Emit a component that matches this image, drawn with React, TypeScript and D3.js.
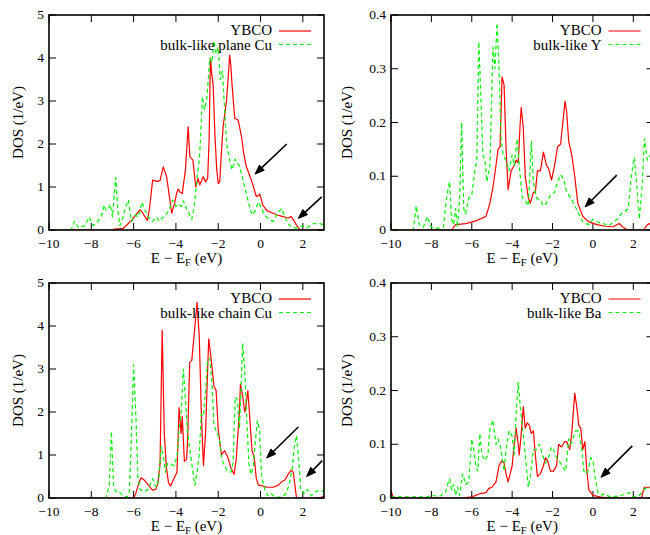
import React from "react";
import * as d3 from "d3";

// ---------- data (E - E_F in eV, DOS in 1/eV) ----------
const xTicks = [-10, -8, -6, -4, -2, 0, 2];
const cuYTicks = [0, 1, 2, 3, 4, 5];
const smallYTicks = [0, 0.1, 0.2, 0.3, 0.4];

const ybcoPlane: [number, number][] = [
  [-10, 0], [-7.0, 0], [-6.9, 0.02], [-6.48, 0.04], [-6.09, 0.23], [-5.85, 0.38], [-5.7, 0.47], [-5.6, 0.42],
  [-5.45, 0.3], [-5.35, 0.22], [-5.25, 0.5], [-5.1, 1.16], [-4.9, 1.13], [-4.75, 1.15], [-4.6, 1.47], [-4.44, 1.24],
  [-4.3, 0.75], [-4.2, 0.39], [-4.05, 0.65], [-3.97, 0.85], [-3.9, 0.95], [-3.8, 0.88], [-3.7, 0.85], [-3.55, 1.4],
  [-3.42, 2.4], [-3.34, 1.7], [-3.2, 1.63], [-3.06, 1.0], [-2.95, 1.2], [-2.87, 1.05], [-2.71, 1.24], [-2.6, 1.12],
  [-2.5, 1.2], [-2.43, 2.1], [-2.37, 4.0], [-2.3, 3.6], [-2.24, 3.37], [-2.16, 2.25], [-2.07, 1.4], [-2.0, 1.08],
  [-1.93, 1.12], [-1.85, 1.8], [-1.77, 2.4], [-1.61, 3.0], [-1.52, 3.6], [-1.46, 4.07], [-1.4, 3.8], [-1.35, 3.4],
  [-1.22, 2.6], [-1.06, 2.56], [-0.9, 2.17], [-0.8, 1.8], [-0.67, 1.47], [-0.5, 1.25], [-0.36, 1.05], [-0.2, 0.78],
  [-0.1, 0.8], [-0.04, 0.84], [0.11, 0.58], [0.3, 0.45], [0.59, 0.39], [0.8, 0.35], [1.06, 0.31], [1.3, 0.28],
  [1.45, 0.31], [1.6, 0.2], [1.69, 0.12], [1.84, 0.02], [1.9, 0], [3, 0],
];
const planeCu: [number, number][] = [
  [-10, 0], [-8.95, 0], [-8.8, 0.2], [-8.6, 0.05], [-8.45, 0.08], [-8.3, 0.1], [-8.1, 0.3], [-7.9, 0.1], [-7.7, 0.2],
  [-7.5, 0.35], [-7.4, 0.58], [-7.3, 0.45], [-7.2, 0.5], [-7.1, 0.6], [-7.0, 0.3], [-6.85, 1.22], [-6.75, 0.5],
  [-6.65, 0.1], [-6.5, 0.3], [-6.4, 0.5], [-6.25, 0.7], [-6.1, 0.2], [-6.0, 0.3], [-5.9, 0.35], [-5.8, 0.3],
  [-5.7, 0.45], [-5.6, 0.65], [-5.5, 0.5], [-5.4, 0.4], [-5.3, 0.3], [-5.2, 0.25], [-5.1, 0.2], [-5.0, 0.25],
  [-4.9, 0.3], [-4.8, 0.2], [-4.7, 0.25], [-4.6, 0.3], [-4.5, 0.35], [-4.4, 0.4], [-4.3, 0.5], [-4.15, 0.7],
  [-4.05, 0.6], [-4.0, 0.55], [-3.85, 0.6], [-3.75, 0.55], [-3.65, 0.68], [-3.5, 0.5], [-3.35, 0.35], [-3.25, 0.25],
  [-3.15, 0.5], [-3.1, 0.7], [-3.0, 1.2], [-2.9, 1.6], [-2.85, 2.0], [-2.75, 3.1], [-2.65, 2.8], [-2.55, 3.0],
  [-2.5, 3.3], [-2.4, 4.0], [-2.3, 3.9], [-2.2, 4.4], [-2.1, 4.1], [-2.0, 4.25], [-1.9, 3.5], [-1.8, 3.7],
  [-1.7, 2.8], [-1.6, 2.0], [-1.45, 1.6], [-1.35, 1.4], [-1.2, 1.65], [-1.1, 1.55], [-1.0, 1.5], [-0.9, 1.3],
  [-0.7, 0.9], [-0.55, 0.6], [-0.4, 0.35], [-0.25, 0.45], [-0.1, 0.65], [0.05, 0.5], [0.2, 0.35], [0.4, 0.25],
  [0.6, 0.2], [0.8, 0.4], [1.0, 0.5], [1.15, 0.3], [1.3, 0.15], [1.5, 0.05], [1.7, 0.05], [2.0, 0.1], [2.2, 0.05],
  [2.5, 0.15], [2.8, 0.15], [3.0, 0.12],
];

const ybcoY: [number, number][] = [
  [-10, 0], [-7.0, 0], [-6.8, 0.01], [-6.3, 0.012], [-5.8, 0.017], [-5.5, 0.022], [-5.3, 0.025], [-5.1, 0.05],
  [-4.95, 0.08], [-4.8, 0.12], [-4.7, 0.15], [-4.6, 0.155], [-4.5, 0.285], [-4.4, 0.27], [-4.3, 0.15], [-4.2, 0.075],
  [-4.05, 0.11], [-3.9, 0.12], [-3.8, 0.13], [-3.7, 0.125], [-3.6, 0.2], [-3.55, 0.228], [-3.45, 0.19], [-3.35, 0.1],
  [-3.2, 0.06], [-3.1, 0.05], [-2.95, 0.07], [-2.85, 0.07], [-2.75, 0.11], [-2.6, 0.11], [-2.45, 0.145], [-2.3, 0.12],
  [-2.2, 0.115], [-2.05, 0.093], [-1.9, 0.12], [-1.75, 0.155], [-1.6, 0.16], [-1.45, 0.215], [-1.38, 0.24],
  [-1.3, 0.22], [-1.2, 0.165], [-1.05, 0.14], [-0.9, 0.1], [-0.75, 0.05], [-0.5, 0.025], [-0.2, 0.015], [0.2, 0.01],
  [0.6, 0.007], [1.0, 0.006], [1.3, 0.012], [1.5, 0.005], [1.7, 0], [2.5, 0], [2.7, 0.01], [3.0, 0.015],
];
const bulkY: [number, number][] = [
  [-10, 0], [-8.9, 0], [-8.75, 0.045], [-8.6, 0.01], [-8.4, 0.005], [-8.2, 0.025], [-8.0, 0.005], [-7.7, 0.003],
  [-7.4, 0.005], [-7.25, 0.06], [-7.1, 0.09], [-7.0, 0.02], [-6.9, 0.01], [-6.8, 0.04], [-6.7, 0.005], [-6.6, 0.06],
  [-6.5, 0.2], [-6.4, 0.04], [-6.3, 0.03], [-6.15, 0.06], [-6.0, 0.065], [-5.85, 0.11], [-5.75, 0.13], [-5.65, 0.35],
  [-5.55, 0.25], [-5.45, 0.14], [-5.35, 0.13], [-5.25, 0.09], [-5.1, 0.12], [-4.95, 0.34], [-4.85, 0.3],
  [-4.75, 0.385], [-4.65, 0.3], [-4.55, 0.17], [-4.45, 0.14], [-4.3, 0.13], [-4.15, 0.11], [-4.0, 0.14],
  [-3.9, 0.12], [-3.75, 0.17], [-3.65, 0.12], [-3.5, 0.06], [-3.35, 0.055], [-3.2, 0.045], [-3.05, 0.165],
  [-2.95, 0.09], [-2.8, 0.06], [-2.6, 0.055], [-2.45, 0.045], [-2.3, 0.05], [-2.1, 0.065], [-1.9, 0.07],
  [-1.75, 0.09], [-1.6, 0.103], [-1.45, 0.095], [-1.3, 0.07], [-1.1, 0.06], [-0.9, 0.045], [-0.7, 0.03],
  [-0.5, 0.015], [-0.2, 0.01], [0.0, 0.02], [0.2, 0.015], [0.5, 0.012], [0.8, 0.008], [1.0, 0.015], [1.2, 0.02],
  [1.4, 0.03], [1.6, 0.035], [1.75, 0.04], [1.9, 0.1], [2.05, 0.135], [2.2, 0.07], [2.3, 0.02], [2.45, 0.09],
  [2.55, 0.17], [2.7, 0.13], [2.85, 0.14], [3.0, 0.12],
];

const ybcoChain: [number, number][] = [
  [-10, 0], [-6.0, 0], [-5.9, 0.1], [-5.75, 0.35], [-5.65, 0.47], [-5.5, 0.42], [-5.3, 0.3], [-5.1, 0.18],
  [-4.95, 0.2], [-4.85, 0.35], [-4.75, 0.8], [-4.65, 3.9], [-4.55, 1.5], [-4.45, 0.7], [-4.35, 0.35], [-4.25, 0.28],
  [-4.1, 0.45], [-3.95, 0.6], [-3.85, 2.1], [-3.75, 1.5], [-3.7, 1.9], [-3.6, 0.85], [-3.5, 0.9], [-3.45, 1.3],
  [-3.35, 3.15], [-3.25, 3.2], [-3.1, 4.0], [-3.0, 4.55], [-2.9, 3.8], [-2.8, 2.0], [-2.7, 0.75], [-2.6, 1.5],
  [-2.5, 3.0], [-2.45, 3.7], [-2.35, 3.3], [-2.2, 2.6], [-2.1, 2.5], [-2.0, 1.6], [-1.85, 1.0], [-1.7, 1.1],
  [-1.55, 0.95], [-1.4, 0.7], [-1.25, 0.55], [-1.15, 0.9], [-1.0, 2.0], [-0.95, 2.65], [-0.85, 2.4], [-0.75, 2.0],
  [-0.7, 2.1], [-0.6, 2.5], [-0.5, 1.8], [-0.4, 1.1], [-0.3, 0.95], [-0.2, 0.45], [-0.1, 0.3], [0.1, 0.28],
  [0.3, 0.25], [0.6, 0.25], [0.85, 0.3], [1.0, 0.38], [1.15, 0.42], [1.3, 0.55], [1.45, 0.65], [1.55, 0.6],
  [1.65, 0.2], [1.7, 0], [2.8, 0], [2.9, 0.02], [3.0, 0.04],
];
const chainCu: [number, number][] = [
  [-10, 0], [-7.3, 0], [-7.15, 0.3], [-7.05, 1.55], [-6.95, 0.3], [-6.85, 0.15], [-6.7, 0.15], [-6.5, 0.05],
  [-6.3, 0.02], [-6.2, 0.15], [-6.1, 1.5], [-6.0, 3.1], [-5.9, 2.0], [-5.8, 0.5], [-5.7, 0.2], [-5.5, 0.15],
  [-5.3, 0.2], [-5.1, 0.45], [-5.0, 0.3], [-4.9, 0.25], [-4.8, 0.5], [-4.7, 1.2], [-4.6, 1.0], [-4.5, 0.6],
  [-4.4, 0.8], [-4.25, 0.8], [-4.1, 0.75], [-3.95, 0.95], [-3.85, 1.6], [-3.75, 2.0], [-3.65, 3.0], [-3.55, 2.3],
  [-3.45, 1.5], [-3.3, 1.0], [-3.2, 0.6], [-3.1, 0.3], [-3.0, 0.6], [-2.9, 1.0], [-2.8, 1.95], [-2.7, 1.9],
  [-2.6, 2.5], [-2.5, 3.2], [-2.4, 3.25], [-2.3, 2.7], [-2.2, 1.7], [-2.05, 1.5], [-1.95, 1.4], [-1.85, 0.95],
  [-1.75, 0.8], [-1.6, 0.65], [-1.4, 0.6], [-1.3, 0.8], [-1.2, 2.35], [-1.1, 2.3], [-1.0, 1.6], [-0.9, 2.8],
  [-0.85, 3.6], [-0.75, 3.0], [-0.65, 1.8], [-0.55, 0.8], [-0.45, 0.55], [-0.35, 0.7], [-0.25, 1.3], [-0.15, 1.8],
  [-0.05, 1.6], [0.05, 0.5], [0.2, 0.2], [0.35, 0.05], [0.5, 0.1], [0.7, 0.02], [1.0, 0.02], [1.2, 0.1],
  [1.35, 0.3], [1.5, 0.7], [1.6, 1.2], [1.7, 1.45], [1.8, 0.9], [1.9, 0.2], [2.05, 0.1], [2.2, 0.2], [2.4, 0.05],
  [2.6, 0.15], [2.8, 0.18], [3.0, 0.15],
];

const ybcoBa: [number, number][] = [
  [-10, 0.015], [-9.9, 0], [-6.5, 0], [-6.0, 0.002], [-5.6, 0.008], [-5.3, 0.01], [-5.15, 0.018], [-5.0, 0.02],
  [-4.8, 0.03], [-4.65, 0.06], [-4.5, 0.07], [-4.4, 0.065], [-4.3, 0.045], [-4.2, 0.03], [-4.1, 0.045], [-4.0, 0.06],
  [-3.9, 0.1], [-3.8, 0.13], [-3.7, 0.1], [-3.65, 0.08], [-3.55, 0.12], [-3.45, 0.17], [-3.35, 0.13], [-3.25, 0.14],
  [-3.15, 0.135], [-3.05, 0.12], [-2.95, 0.125], [-2.85, 0.08], [-2.75, 0.04], [-2.6, 0.045], [-2.45, 0.06],
  [-2.35, 0.075], [-2.25, 0.07], [-2.1, 0.05], [-1.95, 0.05], [-1.8, 0.06], [-1.7, 0.1], [-1.55, 0.095],
  [-1.4, 0.105], [-1.3, 0.105], [-1.15, 0.09], [-1.05, 0.12], [-0.95, 0.17], [-0.9, 0.195], [-0.8, 0.17],
  [-0.7, 0.135], [-0.6, 0.13], [-0.5, 0.09], [-0.4, 0.105], [-0.3, 0.05], [-0.2, 0.015], [0.0, 0.005],
  [0.5, 0.001], [1.0, 0], [2.4, 0], [2.55, 0.02], [2.8, 0.02], [3.0, 0.02],
];
const bulkBa: [number, number][] = [
  [-10, 0.002], [-8.2, 0.002], [-8.0, 0.005], [-7.6, 0.003], [-7.3, 0.01], [-7.2, 0.025], [-7.1, 0.035],
  [-7.0, 0.015], [-6.9, 0.025], [-6.8, 0.005], [-6.7, 0.02], [-6.6, 0.005], [-6.45, 0.045], [-6.3, 0.025],
  [-6.15, 0.03], [-6.0, 0.11], [-5.9, 0.09], [-5.8, 0.06], [-5.7, 0.05], [-5.6, 0.12], [-5.5, 0.08], [-5.35, 0.07],
  [-5.2, 0.08], [-5.1, 0.13], [-4.95, 0.145], [-4.8, 0.1], [-4.7, 0.11], [-4.55, 0.09], [-4.4, 0.05], [-4.3, 0.09],
  [-4.15, 0.125], [-4.0, 0.115], [-3.9, 0.08], [-3.8, 0.16], [-3.7, 0.215], [-3.6, 0.17], [-3.5, 0.135],
  [-3.4, 0.1], [-3.3, 0.06], [-3.2, 0.02], [-3.1, 0.04], [-2.95, 0.09], [-2.8, 0.09], [-2.65, 0.1], [-2.5, 0.08],
  [-2.35, 0.065], [-2.2, 0.075], [-2.05, 0.095], [-1.95, 0.09], [-1.8, 0.075], [-1.6, 0.065], [-1.45, 0.055],
  [-1.35, 0.05], [-1.2, 0.11], [-1.1, 0.1], [-1.0, 0.11], [-0.85, 0.125], [-0.7, 0.125], [-0.55, 0.09],
  [-0.45, 0.05], [-0.35, 0.045], [-0.25, 0.05], [-0.1, 0.075], [0.0, 0.07], [0.1, 0.04], [0.25, 0.01],
  [0.45, 0.005], [0.55, 0.008], [0.8, 0.003], [1.3, 0.003], [1.6, 0.008], [1.8, 0.01], [2.0, 0.002], [2.3, 0.005],
  [2.5, 0.015], [2.7, 0.02], [2.9, 0.018], [3.0, 0.02],
];

// arrows in data coordinates: [E0, D0, E1, D1]
const planeArrows = [[1.24, 2.0, -0.26, 1.3], [2.89, 0.77, 1.785, 0.27]];
const yArrows = [[1.18, 0.102, -0.39, 0.043]];
const chainArrows = [[1.785, 1.65, 0.29, 0.93], [2.92, 0.87, 2.18, 0.5]];
const baArrows = [[1.95, 0.097, 0.4, 0.0385]];

const legendLabels = ["YBCO", "bulk-like plane Cu", "bulk-like Y", "bulk-like chain Cu", "bulk-like Ba"];

// ---------- layout ----------
const FONT = "Liberation Serif, DejaVu Serif, serif";
const RED = "#ff0000";
const GREEN = "#00f000";

type PanelDef = {
  id: string;
  xr: [number, number];
  yr: [number, number];
  ymax: number;
  yticks: number[];
  fmt: (v: number) => string;
  red: [number, number][];
  green: [number, number][];
  label: string;
  arrows: number[][];
  ylabelOff: number;
};

const intFmt = (v: number) => String(v);
const decFmt = (v: number) => (v === 0 ? "0" : v.toFixed(1));
const xFmt = (v: number) => (v < 0 ? "\u2212" + String(-v) : String(v));

const panels: PanelDef[] = [
  { id: "a", xr: [49, 324], yr: [230, 15], ymax: 5, yticks: cuYTicks, fmt: intFmt, red: ybcoPlane, green: planeCu, label: legendLabels[1], arrows: planeArrows, ylabelOff: 31 },
  { id: "b", xr: [391, 653.5], yr: [230, 15], ymax: 0.4, yticks: smallYTicks, fmt: decFmt, red: ybcoY, green: bulkY, label: legendLabels[2], arrows: yArrows, ylabelOff: 44 },
  { id: "c", xr: [49, 324], yr: [498, 283], ymax: 5, yticks: cuYTicks, fmt: intFmt, red: ybcoChain, green: chainCu, label: legendLabels[3], arrows: chainArrows, ylabelOff: 31 },
  { id: "d", xr: [391, 653.5], yr: [498, 283], ymax: 0.4, yticks: smallYTicks, fmt: decFmt, red: ybcoBa, green: bulkBa, label: legendLabels[4], arrows: baArrows, ylabelOff: 44 },
];

const T_STYLE = { fontFamily: FONT };

function Arrow({ x0, y0, x1, y1 }: { x0: number; y0: number; x1: number; y1: number }) {
  const ang = Math.atan2(y1 - y0, x1 - x0);
  const len = 10;
  const half = 0.36;
  const bx = x1 - len * Math.cos(ang - half);
  const by = y1 - len * Math.sin(ang - half);
  const cx = x1 - len * Math.cos(ang + half);
  const cy = y1 - len * Math.sin(ang + half);
  const mx = x1 - len * 0.9 * Math.cos(ang);
  const my = y1 - len * 0.9 * Math.sin(ang);
  return (
    <g>
      <line x1={x0} y1={y0} x2={mx} y2={my} stroke="#000" strokeWidth={1.6} />
      <path d={`M${x1},${y1}L${bx},${by}L${cx},${cy}Z`} fill="#000" stroke="#000" strokeWidth={1} />
    </g>
  );
}

function Panel({ p }: { p: PanelDef }) {
  const x = d3.scaleLinear().domain([-10, 3]).range(p.xr);
  const y = d3.scaleLinear().domain([0, p.ymax]).range(p.yr);
  const line = d3
    .line<[number, number]>()
    .x((d) => x(d[0]))
    .y((d) => y(d[1]));
  const [L, R] = p.xr;
  const [B, T] = p.yr;
  const tick = 7;
  const cx = (L + R) / 2;
  const ylabY = (B + T) / 2;
  const legX = R - 45;
  return (
    <g>
      <defs>
        <clipPath id={`clip-${p.id}`}>
          <rect x={L} y={T} width={R - L} height={B - T} />
        </clipPath>
      </defs>
      {/* ticks */}
      {xTicks.map((t) => (
        <g key={`xt${t}`}>
          <line x1={x(t)} x2={x(t)} y1={B} y2={B - tick} stroke="#000" strokeWidth={1} />
          <line x1={x(t)} x2={x(t)} y1={T} y2={T + tick} stroke="#000" strokeWidth={1} />
          <text x={x(t)} y={B + 17.5} textAnchor="middle" fontSize={13.5} fontFamily={FONT} style={T_STYLE}>
            {xFmt(t)}
          </text>
        </g>
      ))}
      {p.yticks.map((t) => (
        <g key={`yt${t}`}>
          <line x1={L} x2={L + tick} y1={y(t)} y2={y(t)} stroke="#000" strokeWidth={1} />
          <line x1={R} x2={R - tick} y1={y(t)} y2={y(t)} stroke="#000" strokeWidth={1} />
          <text x={L - 5} y={y(t) + 4.2} textAnchor="end" fontSize={13.5} fontFamily={FONT} style={T_STYLE}>
            {p.fmt(t)}
          </text>
        </g>
      ))}
      {/* curves */}
      <g clipPath={`url(#clip-${p.id})`}>
        <path d={line(p.red) || ""} fill="none" stroke={RED} strokeWidth={1.2} strokeLinejoin="round" />
        <path d={line(p.green) || ""} fill="none" stroke={GREEN} strokeWidth={1.2} strokeDasharray="4,3" strokeLinejoin="round" />
      </g>
      {/* frame */}
      <rect x={L} y={T} width={R - L} height={B - T} fill="none" stroke="#000" strokeWidth={1.6} />
      {/* legend */}
      <text x={legX - 7} y={T + 20} textAnchor="end" fontSize={15} fontFamily={FONT} style={T_STYLE}>
        {legendLabels[0]}
      </text>
      <line x1={legX} x2={legX + 32} y1={T + 16} y2={T + 16} stroke={RED} strokeWidth={1.2} />
      <text x={legX - 7} y={T + 34.5} textAnchor="end" fontSize={15} fontFamily={FONT} style={T_STYLE}>
        {p.label}
      </text>
      <line x1={legX} x2={legX + 32} y1={T + 29.5} y2={T + 29.5} stroke={GREEN} strokeWidth={1.2} strokeDasharray="4,3" />
      {/* arrows */}
      {p.arrows.map((a, i) => (
        <Arrow key={i} x0={x(a[0])} y0={y(a[1])} x1={x(a[2])} y1={y(a[3])} />
      ))}
      {/* axis labels */}
      <text x={cx} y={B + 33} textAnchor="middle" fontSize={15} fontFamily={FONT} style={T_STYLE}>
        {"E \u2212 E"}
        <tspan fontSize={10.5} dy={3}>F</tspan>
        <tspan dy={-3}>{" (eV)"}</tspan>
      </text>
      <text
        transform={`translate(${L - p.ylabelOff + 5},${ylabY}) rotate(-90)`}
        textAnchor="middle"
        fontSize={15}
        fontFamily={FONT}
        style={T_STYLE}
      >
        DOS (1/eV)
      </text>
    </g>
  );
}

export default function App() {
  return (
    <svg
      width={650}
      height={535}
      fontFamily={FONT}
      style={{ position: "absolute", left: 0, top: 0, background: "#fff", fontFamily: FONT }}
    >
      <rect x={0} y={0} width={650} height={535} fill="#fff" />
      {panels.map((p) => (
        <Panel key={p.id} p={p} />
      ))}
    </svg>
  );
}
